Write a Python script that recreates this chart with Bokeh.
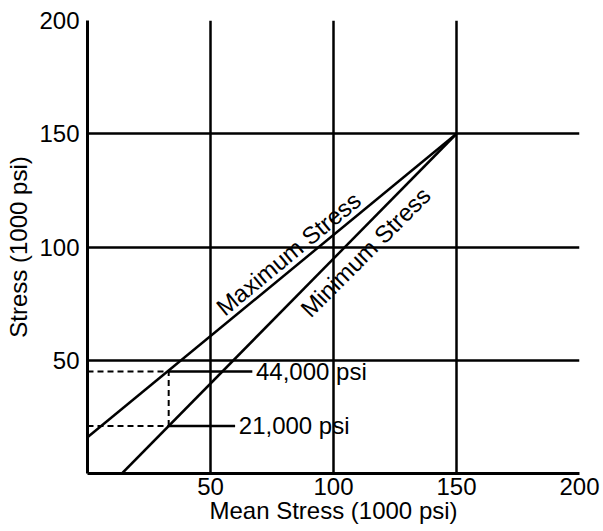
from bokeh.plotting import figure
from bokeh.models import Range1d, FixedTicker
from bokeh.core.properties import value
from bokeh.embed import file_html
from bokeh.resources import INLINE

FONT = "Liberation Sans"
FS = "24px"

# ---- data ----
axis_ticks = [50, 100, 150, 200]
grid_ticks = [50, 100, 150]

max_x = [0, 150]
max_y = [16, 150]
min_x = [14, 150]
min_y = [0, 150]

mean_pt = 33
max_pt = 45
min_pt = 21
ann_labels = ["44,000 psi", "21,000 psi"]
ann_vals = [max_pt, min_pt]
ann_end = [67, 60]
ann_text_x = [68.5, 61.5]

line_labels = ["Maximum Stress", "Minimum Stress"]
line_label_x = [81.7, 113]
line_label_y = [97.1, 97.8]
line_label_angle = [39.5, 45]

p = figure(width=603, height=531, output_backend="svg", toolbar_location=None,
           x_range=Range1d(0, 200), y_range=Range1d(0, 200),
           min_border_left=87, min_border_right=24, min_border_top=20,
           min_border_bottom=58)
p.outline_line_color = None
p.background_fill_color = "white"

for ax in (p.xaxis, p.yaxis):
    ax.ticker = FixedTicker(ticks=axis_ticks)
    ax.major_tick_line_color = None
    ax.minor_tick_line_color = None
    ax.major_tick_out = 0
    ax.major_tick_in = 0
    ax.axis_line_color = "black"
    ax.axis_line_width = 3
    ax.major_label_text_font = FONT
    ax.major_label_text_font_size = FS
    ax.major_label_text_color = "black"
    ax.axis_label_text_font = FONT
    ax.axis_label_text_font_size = FS
    ax.axis_label_text_font_style = "normal"
    ax.axis_label_text_color = "black"

p.xaxis.major_label_standoff = 4
p.yaxis.major_label_standoff = 8
p.xaxis.axis_label = "Mean Stress (1000 psi)"
p.yaxis.axis_label = "Stress (1000 psi)"
p.xaxis.axis_label_standoff = -1
p.yaxis.axis_label_standoff = 4

for g in (p.xgrid, p.ygrid):
    g.ticker = FixedTicker(ticks=grid_ticks)
    g.grid_line_color = "black"
    g.grid_line_width = 2.5
    g.grid_line_alpha = 1.0

# stress lines
p.line(max_x, max_y, line_color="black", line_width=2.5)
p.line(min_x, min_y, line_color="black", line_width=2.5)

# dashed construction lines
p.line([0, mean_pt], [max_pt, max_pt], line_color="black", line_width=2, line_dash="6 4")
p.line([0, mean_pt], [min_pt, min_pt], line_color="black", line_width=2, line_dash="6 4")
p.line([mean_pt, mean_pt], [min_pt, max_pt], line_color="black", line_width=2, line_dash="6 4")

# leader lines
p.segment(x0=[mean_pt, mean_pt], y0=ann_vals, x1=ann_end, y1=ann_vals,
          line_color="black", line_width=2.5)
p.text(x=ann_text_x, y=ann_vals, text=ann_labels, text_font=value(FONT),
       text_font_size=value(FS), text_align="left", text_baseline="middle",
       text_color="black")

# line labels
p.text(x=line_label_x, y=line_label_y, text=line_labels, angle=line_label_angle,
       angle_units="deg", text_font=value(FONT), text_font_size=value(FS),
       text_align="center", text_baseline="middle", text_color="black")

open("out.html", "w").write(file_html(p, INLINE))
